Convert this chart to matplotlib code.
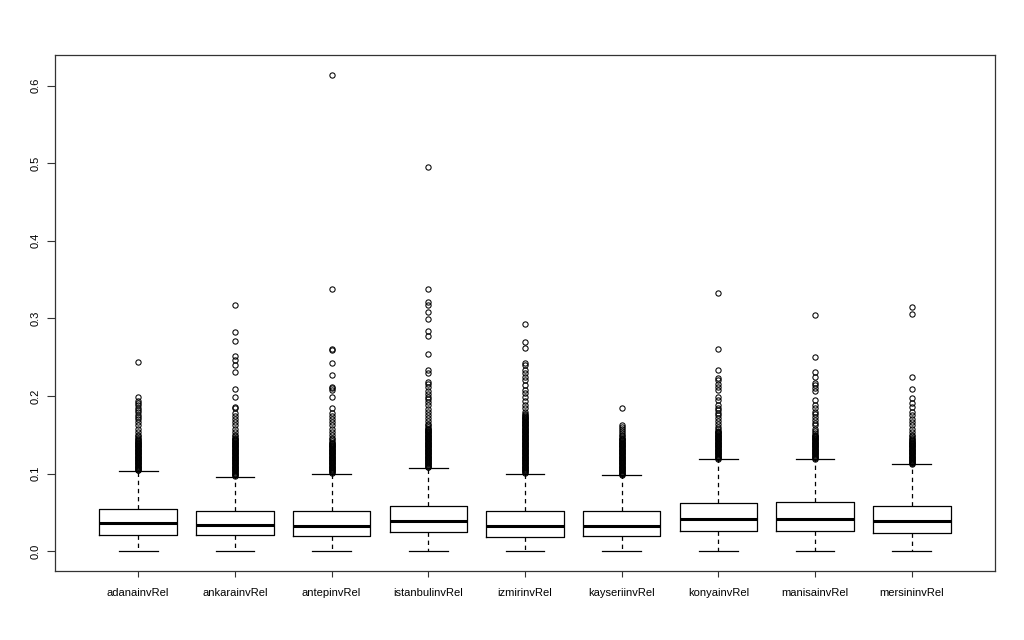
import matplotlib
matplotlib.use("Agg")
import matplotlib.pyplot as plt

plt.rcParams['font.family'] = ['Liberation Sans', 'DejaVu Sans']

labels = ["adanainvRel", "ankarainvRel", "antepinvRel", "istanbulinvRel", "izmirinvRel",
          "kayseriinvRel", "konyainvRel", "manisainvRel", "mersininvRel"]
q1 = [0.0206, 0.0206, 0.0190, 0.0245, 0.0180, 0.0190, 0.0262, 0.0254, 0.0237]
med = [0.0357, 0.0335, 0.0327, 0.0390, 0.0323, 0.0327, 0.0417, 0.0413, 0.0390]
q3 = [0.0538, 0.0516, 0.0516, 0.0580, 0.0512, 0.0516, 0.0624, 0.0628, 0.0585]
whislo = [0.0, 0.0, 0.0, 0.0, 0.0, 0.0, 0.0, 0.0, 0.0]
whishi = [0.1030, 0.0959, 0.1000, 0.1075, 0.1000, 0.0976, 0.1183, 0.1183, 0.1118]

fliers_adana = [0.104, 0.105, 0.106, 0.107, 0.108, 0.109, 0.110, 0.111, 0.112, 0.113,
                0.114, 0.115, 0.116, 0.117, 0.118, 0.119, 0.120, 0.121, 0.122, 0.123,
                0.124, 0.125, 0.126, 0.127, 0.128, 0.129, 0.130, 0.131, 0.132, 0.133,
                0.134, 0.135, 0.136, 0.137, 0.138, 0.139, 0.140, 0.141, 0.142, 0.143,
                0.144, 0.146, 0.148,
                0.150, 0.154, 0.158, 0.162, 0.166, 0.170, 0.173, 0.176, 0.179, 0.182,
                0.185, 0.188, 0.191, 0.194, 0.199, 0.244]
fliers_ankara = [0.097, 0.098, 0.099, 0.100, 0.101, 0.102, 0.103, 0.104, 0.105, 0.106,
                 0.107, 0.108, 0.109, 0.110, 0.111, 0.112, 0.113, 0.114, 0.115, 0.116,
                 0.117, 0.118, 0.119, 0.120, 0.121, 0.122, 0.123, 0.124, 0.125, 0.126,
                 0.127, 0.128, 0.129, 0.130, 0.131, 0.132, 0.133, 0.134, 0.135, 0.136,
                 0.137, 0.138, 0.139, 0.140, 0.141, 0.142, 0.143, 0.144, 0.145, 0.146,
                 0.148, 0.150, 0.154, 0.158, 0.162, 0.166, 0.170, 0.174,
                 0.178, 0.184, 0.186, 0.199, 0.209, 0.231, 0.240, 0.247, 0.252, 0.271, 0.283,
                 0.317]
fliers_antep = [0.101, 0.102, 0.103, 0.104, 0.105, 0.106, 0.107, 0.108, 0.109, 0.110,
                0.111, 0.112, 0.113, 0.114, 0.115, 0.116, 0.117, 0.118, 0.119, 0.120,
                0.121, 0.122, 0.123, 0.124, 0.125, 0.126, 0.127, 0.128, 0.129, 0.130,
                0.131, 0.132, 0.133, 0.134, 0.135, 0.136, 0.137, 0.138, 0.139, 0.140,
                0.142, 0.144,
                0.146, 0.150, 0.154, 0.158, 0.162, 0.166, 0.170, 0.174, 0.178, 0.184, 0.199,
                0.208, 0.210, 0.212, 0.227, 0.242, 0.259, 0.261, 0.338, 0.614]
fliers_istanbul = [0.108, 0.109, 0.110, 0.111, 0.112, 0.113, 0.114, 0.115, 0.116, 0.117,
                   0.118, 0.119, 0.120, 0.121, 0.122, 0.123, 0.124, 0.125, 0.126, 0.127,
                   0.128, 0.129, 0.130, 0.131, 0.132, 0.133, 0.134, 0.135, 0.136, 0.137,
                   0.138, 0.139, 0.140, 0.141, 0.142, 0.143, 0.144, 0.145, 0.146, 0.147,
                   0.148, 0.149, 0.150, 0.151, 0.152, 0.153, 0.154, 0.155, 0.156, 0.157,
                   0.158, 0.160, 0.162,
                   0.164, 0.168, 0.172, 0.176, 0.180, 0.183,
                   0.188, 0.192, 0.196, 0.199, 0.203, 0.207, 0.211, 0.215, 0.218, 0.230, 0.234,
                   0.254, 0.277, 0.284, 0.299, 0.308, 0.317, 0.321, 0.338, 0.495]
fliers_izmir = [0.101, 0.102, 0.103, 0.104, 0.105, 0.106, 0.107, 0.108, 0.109, 0.110,
                0.111, 0.112, 0.113, 0.114, 0.115, 0.116, 0.117, 0.118, 0.119, 0.120,
                0.121, 0.122, 0.123, 0.124, 0.125, 0.126, 0.127, 0.128, 0.129, 0.130,
                0.131, 0.132, 0.133, 0.134, 0.135, 0.136, 0.137, 0.138, 0.139, 0.140,
                0.141, 0.142, 0.143, 0.144, 0.145, 0.146, 0.147, 0.148, 0.149, 0.150,
                0.151, 0.152, 0.153, 0.154, 0.155, 0.156, 0.157, 0.158, 0.159, 0.160,
                0.161, 0.162, 0.163, 0.164, 0.165, 0.166, 0.167, 0.168, 0.169, 0.170,
                0.171, 0.172, 0.173, 0.174, 0.175, 0.177,
                0.180, 0.185, 0.189, 0.193, 0.199,
                0.204, 0.208, 0.214, 0.220, 0.225, 0.230, 0.234, 0.240, 0.243, 0.262, 0.269,
                0.293]
fliers_kayseri = [0.098, 0.099, 0.100, 0.101, 0.102, 0.103, 0.104, 0.105, 0.106, 0.107,
                  0.108, 0.109, 0.110, 0.111, 0.112, 0.113, 0.114, 0.115, 0.116, 0.117,
                  0.118, 0.119, 0.120, 0.121, 0.122, 0.123, 0.124, 0.125, 0.126, 0.127,
                  0.128, 0.129, 0.130, 0.131, 0.132, 0.133, 0.134, 0.135, 0.136, 0.137,
                  0.138, 0.139, 0.140, 0.141, 0.142, 0.143, 0.144, 0.145, 0.146, 0.148,
                  0.150, 0.152, 0.155, 0.158, 0.160, 0.162, 0.185]
fliers_konya = [0.119, 0.120, 0.121, 0.122, 0.123, 0.124, 0.125, 0.126, 0.127, 0.128,
                0.129, 0.130, 0.131, 0.132, 0.133, 0.134, 0.135, 0.136, 0.137, 0.138,
                0.139, 0.140, 0.141, 0.142, 0.143, 0.144, 0.145, 0.146, 0.147, 0.148,
                0.149, 0.150, 0.151, 0.152, 0.153, 0.154, 0.155, 0.157, 0.160, 0.164,
                0.168, 0.172, 0.176, 0.178, 0.182, 0.185, 0.188, 0.195, 0.199, 0.208, 0.212,
                0.216, 0.220, 0.223, 0.233, 0.260, 0.333]
fliers_manisa = [0.119, 0.120, 0.121, 0.122, 0.123, 0.124, 0.125, 0.126, 0.127, 0.128,
                 0.129, 0.130, 0.131, 0.132, 0.133, 0.134, 0.135, 0.136, 0.137, 0.138,
                 0.139, 0.140, 0.141, 0.142, 0.143, 0.144, 0.145, 0.146, 0.147, 0.148,
                 0.149, 0.150, 0.152, 0.155, 0.158, 0.162, 0.165,
                 0.169, 0.173, 0.177, 0.180, 0.184, 0.188, 0.195, 0.206, 0.210, 0.214, 0.217,
                 0.225, 0.231, 0.250, 0.304]
fliers_mersin = [0.112, 0.113, 0.114, 0.115, 0.116, 0.117, 0.118, 0.119, 0.120, 0.121,
                 0.122, 0.123, 0.124, 0.125, 0.126, 0.127, 0.128, 0.129, 0.130, 0.131,
                 0.132, 0.133, 0.134, 0.135, 0.136, 0.137, 0.138, 0.139, 0.140, 0.141,
                 0.142, 0.143, 0.144, 0.146, 0.148, 0.150, 0.154, 0.158,
                 0.162, 0.166, 0.170, 0.175, 0.180, 0.186, 0.191, 0.197, 0.209, 0.224, 0.306,
                 0.315]
fliers = [fliers_adana, fliers_ankara, fliers_antep, fliers_istanbul, fliers_izmir,
          fliers_kayseri, fliers_konya, fliers_manisa, fliers_mersin]

stats = []
for i in range(len(labels)):
    stats.append(dict(label=labels[i], q1=q1[i], med=med[i], q3=q3[i],
                      whislo=whislo[i], whishi=whishi[i], fliers=fliers[i]))

fig = plt.figure(figsize=(10.24, 6.4), dpi=100)
ax = fig.add_axes([55/1024, 1-571/640, 940/1024, 516/640])
pos = list(range(1, len(labels) + 1))
ax.bxp(stats, positions=pos, widths=0.8, showfliers=True,
       boxprops=dict(color='black', linewidth=0.9),
       medianprops=dict(color='black', linewidth=2.2),
       whiskerprops=dict(color='black', linewidth=0.9, linestyle=(0, (3.5, 3))),
       capprops=dict(color='black', linewidth=0.9),
       capwidths=0.4,
       flierprops=dict(marker='o', markersize=3.8, markerfacecolor='none',
                       markeredgecolor='black', markeredgewidth=0.75))

ax.set_xlim(0.14, 9.86)
ax.set_ylim(-0.0256, 0.6396)
ax.set_yticks([0.0, 0.1, 0.2, 0.3, 0.4, 0.5, 0.6])
ax.set_yticklabels(["0.0", "0.1", "0.2", "0.3", "0.4", "0.5", "0.6"],
                   rotation=90, va='center')
ax.set_xticks(pos)
ax.set_xticklabels(labels)
ax.tick_params(axis='y', direction='out', length=5.5, width=0.8, labelsize=8, pad=5,
               color='#333333')
ax.tick_params(axis='x', direction='out', length=4.5, width=0.8, labelsize=8, pad=8,
               color='#333333')
for sp in ax.spines.values():
    sp.set_linewidth(0.9)
    sp.set_color('#333333')

fig.savefig("out.png", dpi=100)
